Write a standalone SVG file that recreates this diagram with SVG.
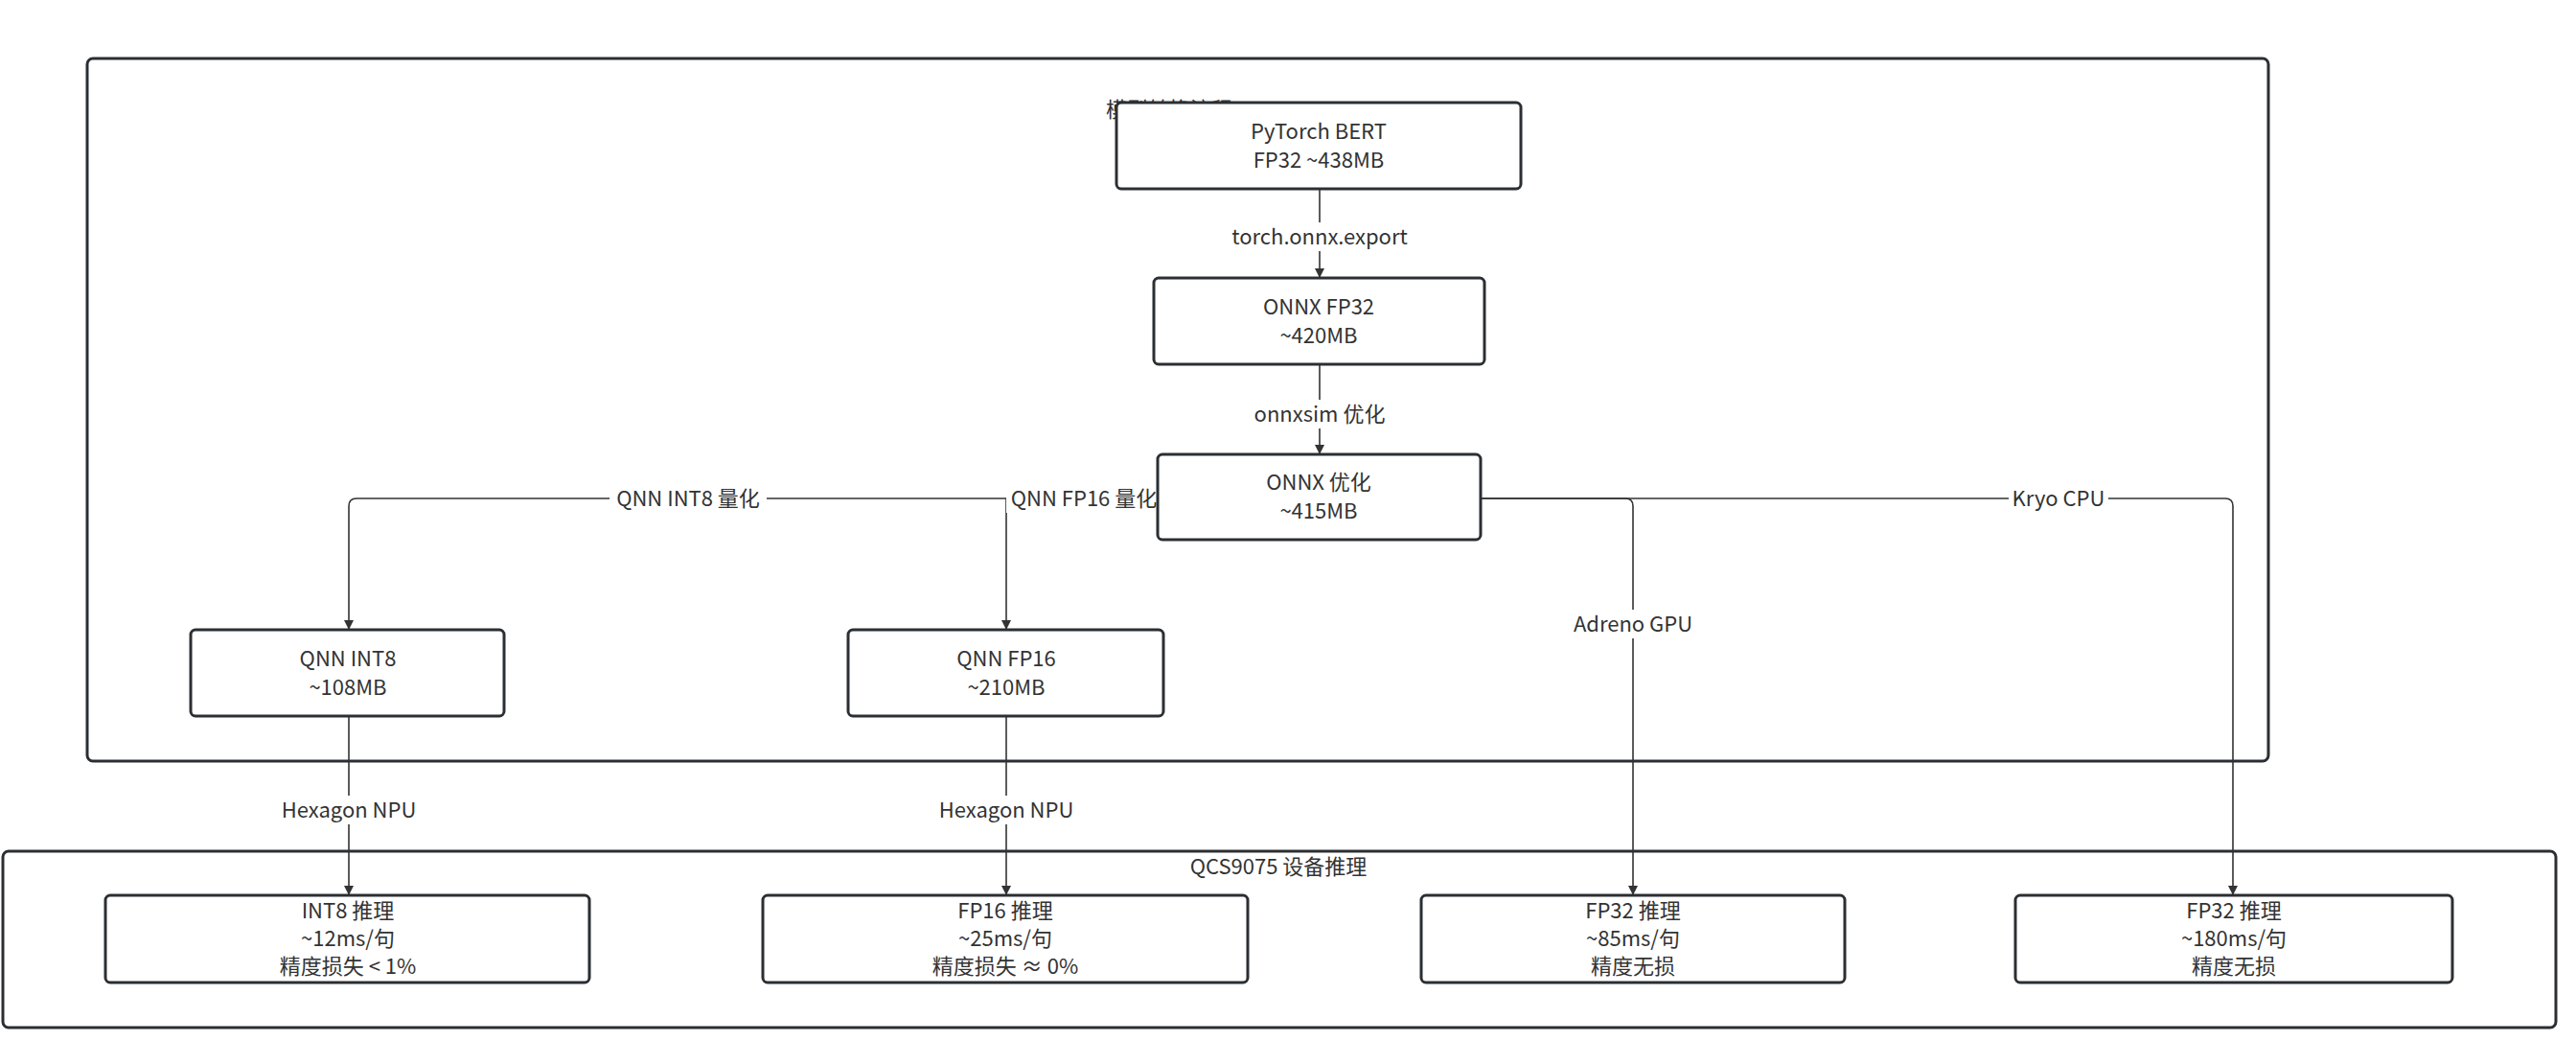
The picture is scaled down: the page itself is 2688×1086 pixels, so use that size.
<svg xmlns="http://www.w3.org/2000/svg" width="2688" height="1086" viewBox="0 0 2688 1086">
<style>
.c{fill:none;stroke:#2b2f33;stroke-width:3}
.n{fill:#fff;stroke:#2b2f33;stroke-width:3}
.e{fill:none;stroke:#333;stroke-width:1.6}
text{font-family:"Noto Sans CJK SC","Noto Sans",sans-serif;font-size:22px;fill:#333;text-anchor:middle}
.lb{fill:#fff}
</style>
<defs><marker id="a" viewBox="0 0 10 10" refX="10" refY="5" markerWidth="10" markerHeight="10" markerUnits="userSpaceOnUse" orient="auto"><path d="M0,0L10,5L0,10z" fill="#333"/></marker></defs>
<rect width="2688" height="1086" fill="#fff"/>
<g id="cluster-convert"><rect class="c" x="91" y="61" width="2276" height="733" rx="6"/><text x="1220" y="122">模型转换流程</text></g>
<g id="cluster-device"><rect class="c" x="3" y="888" width="2664" height="184" rx="6"/><text x="1334" y="912">QCS9075 设备推理</text></g>
<g id="connectors">
<path class="e" d="M1377,197V290" marker-end="url(#a)"/>
<path class="e" d="M1377,380V474" marker-end="url(#a)"/>
<path class="e" d="M1208,520H372Q364,520 364,528V657" marker-end="url(#a)"/>
<path class="e" d="M1050,520V657" marker-end="url(#a)"/>
<path class="e" d="M1545,520H1696Q1704,520 1704,528V934" marker-end="url(#a)"/>
<path class="e" d="M1545,520H2322Q2330,520 2330,528V934" marker-end="url(#a)"/>
<path class="e" d="M364,747V934" marker-end="url(#a)"/>
<path class="e" d="M1050,747V934" marker-end="url(#a)"/>
<rect class="lb" x="1275" y="232" width="204" height="30"/><text x="1377" y="255">torch.onnx.export</text>
<rect class="lb" x="1302" y="417" width="150" height="30"/><text x="1377" y="440">onnxsim 优化</text>
<rect class="lb" x="636" y="505" width="164" height="30"/><text x="718" y="528">QNN INT8 量化</text>
<rect class="lb" x="1050" y="505" width="164" height="30"/><text x="1131" y="528">QNN FP16 量化</text>
<rect class="lb" x="1634" y="636" width="140" height="30"/><text x="1704" y="659">Adreno GPU</text>
<rect class="lb" x="2096" y="505" width="104" height="30"/><text x="2148" y="528">Kryo CPU</text>
<rect class="lb" x="290" y="830" width="148" height="30"/><text x="364" y="853">Hexagon NPU</text>
<rect class="lb" x="976" y="830" width="148" height="30"/><text x="1050" y="853">Hexagon NPU</text>
</g>
<g id="pytorch"><rect class="n" x="1165" y="107" width="422" height="90" rx="5"/><text x="1376" y="145">PyTorch BERT</text><text x="1376" y="175">FP32 ~438MB</text></g>
<g id="onnx32"><rect class="n" x="1204" y="290" width="345" height="90" rx="5"/><text x="1376" y="328">ONNX FP32</text><text x="1376" y="358">~420MB</text></g>
<g id="onnxopt"><rect class="n" x="1208" y="474" width="337" height="89" rx="5"/><text x="1376" y="511">ONNX 优化</text><text x="1376" y="541">~415MB</text></g>
<g id="qnnint8"><rect class="n" x="199" y="657" width="327" height="90" rx="5"/><text x="363" y="695">QNN INT8</text><text x="363" y="725">~108MB</text></g>
<g id="qnnfp16"><rect class="n" x="885" y="657" width="329" height="90" rx="5"/><text x="1050" y="695">QNN FP16</text><text x="1050" y="725">~210MB</text></g>
<g id="int8inf"><rect class="n" x="110" y="934" width="505" height="91" rx="5"/><text x="363" y="958">INT8 推理</text><text x="363" y="987">~12ms/句</text><text x="363" y="1016">精度损失 &lt; 1%</text></g>
<g id="fp16inf"><rect class="n" x="796" y="934" width="506" height="91" rx="5"/><text x="1049" y="958">FP16 推理</text><text x="1049" y="987">~25ms/句</text><text x="1049" y="1016">精度损失 ≈ 0%</text></g>
<g id="gpuinf"><rect class="n" x="1483" y="934" width="442" height="91" rx="5"/><text x="1704" y="958">FP32 推理</text><text x="1704" y="987">~85ms/句</text><text x="1704" y="1016">精度无损</text></g>
<g id="cpuinf"><rect class="n" x="2103" y="934" width="456" height="91" rx="5"/><text x="2331" y="958">FP32 推理</text><text x="2331" y="987">~180ms/句</text><text x="2331" y="1016">精度无损</text></g>
</svg>
